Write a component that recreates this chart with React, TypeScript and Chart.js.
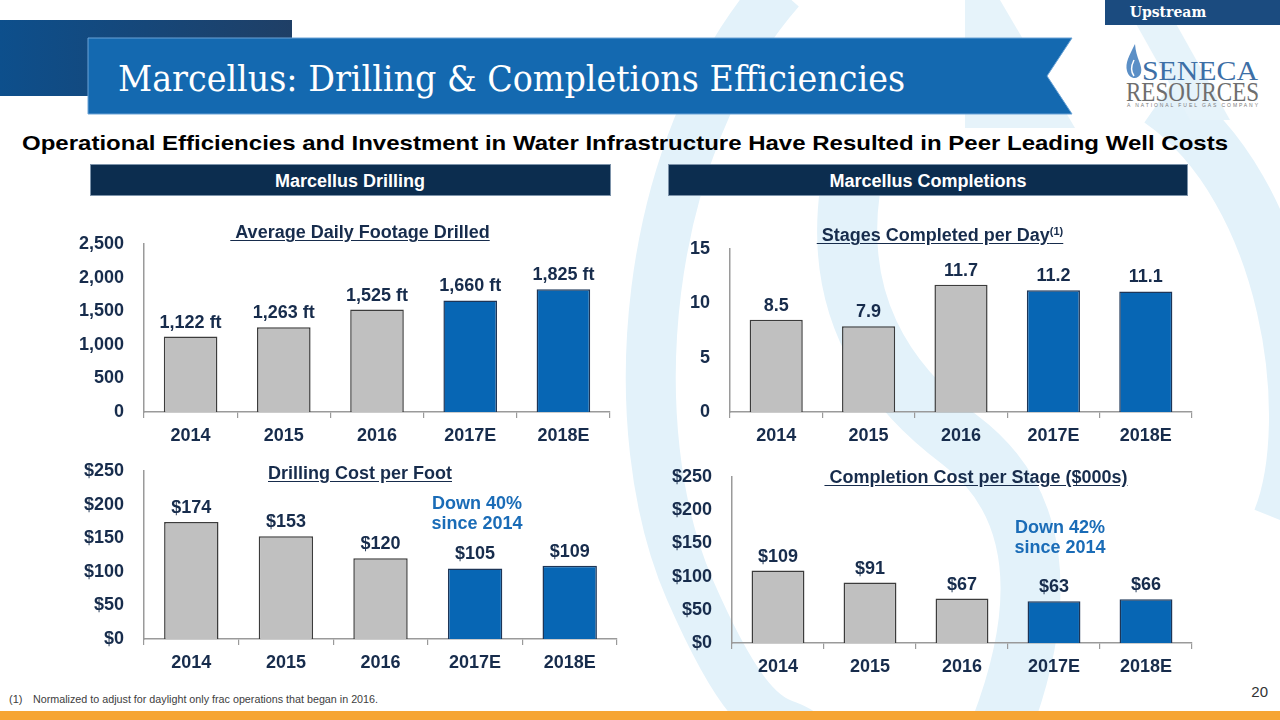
import React, { useEffect, useRef } from "react";
import { Chart, registerables } from "chart.js";

Chart.register(...registerables);

// ---------- data ----------
const categories = ["2014", "2015", "2016", "2017E", "2018E"];
const footageValues = [1122, 1263, 1525, 1660, 1825];
const stagesValues = [8.5, 7.9, 11.7, 11.2, 11.1];
const drillCostValues = [174, 153, 120, 105, 109];
const completionCostValues = [109, 91, 67, 63, 66];

const footageAxisMax = 2500;
const footageStep = 500;
const stagesAxisMax = 15;
const stagesStep = 5;
const costAxisMax = 250;
const costStep = 50;

// ---------- style ----------
const NAVY = "#172c4c";
const GREY = "#c0c0c0";
const GREY_EDGE = "#3c3c3c";
const BLUE = "#0766b4";
const BLUE_EDGE = "#1d3557";
const AXIS = "#9a9a9a";
const ACCENT = "#1a6cb7";
const SANS = "'Liberation Sans', Arial, Helvetica, sans-serif";
const FS = 18;

const fmtThousands = (v: number) => v.toLocaleString("en-US");
const fmtDollar = (v: number) => "$" + v.toLocaleString("en-US");

type PanelProps = {
  values: number[];
  labels: string[];
  yMax: number;
  step: number;
  tickFmt: (v: number) => string;
  plotLeft: number;
  plotRight: number;
  plotTop: number;
  plotBottom: number;
};

function BarPanel(p: PanelProps) {
  const ref = useRef<HTMLCanvasElement>(null);
  const YW = 90;
  const PT = 50;
  const PR = 12;
  const XH = 40;
  const width = p.plotRight - p.plotLeft + YW + PR;
  const height = p.plotBottom - p.plotTop + PT + XH;

  useEffect(() => {
    const labelPlugin = {
      id: "valueLabels",
      afterDatasetsDraw(chart: any) {
        const ctx = chart.ctx;
        const meta = chart.getDatasetMeta(0);
        ctx.save();
        ctx.font = `bold ${FS}px ${SANS}`;
        ctx.fillStyle = NAVY;
        ctx.textAlign = "center";
        ctx.textBaseline = "alphabetic";
        meta.data.forEach((el: any, i: number) => {
          ctx.fillText(p.labels[i], el.x, el.y - 9);
        });
        ctx.restore();
      },
    };
    const chart = new Chart(ref.current as HTMLCanvasElement, {
      type: "bar",
      data: {
        labels: categories,
        datasets: [
          {
            data: p.values,
            backgroundColor: categories.map((c) => (c.endsWith("E") ? BLUE : GREY)),
            borderColor: categories.map((c) => (c.endsWith("E") ? BLUE_EDGE : GREY_EDGE)),
            borderWidth: 1.5,
            barPercentage: 0.575,
            categoryPercentage: 1,
          },
        ],
      },
      options: {
        animation: false,
        responsive: false,
        maintainAspectRatio: false,
        layout: { padding: { top: PT, right: PR, left: 0, bottom: 0 } },
        plugins: { legend: { display: false }, tooltip: { enabled: false }, title: { display: false } },
        scales: {
          x: {
            offset: true,
            grid: {
              offset: true,
              display: true,
              drawOnChartArea: false,
              drawTicks: true,
              tickLength: 6,
              lineWidth: 1.2,
              color: (ctx: any) => (ctx.index >= categories.length ? "rgba(0,0,0,0)" : AXIS),
            },
            border: { display: true, color: AXIS, width: 1.5 },
            ticks: {
              color: NAVY,
              font: { family: SANS, size: FS, weight: "bold" },
              padding: 7,
              maxRotation: 0,
            },
            afterFit: (s: any) => {
              s.height = XH;
            },
          },
          y: {
            min: 0,
            max: p.yMax,
            grid: { display: false },
            border: { display: true, color: AXIS, width: 1.5 },
            ticks: {
              stepSize: p.step,
              color: NAVY,
              font: { family: SANS, size: FS, weight: "bold" },
              padding: 12,
              callback: (v: any) => p.tickFmt(Number(v)),
            },
            afterFit: (s: any) => {
              s.width = YW;
            },
          },
        },
      } as any,
      plugins: [labelPlugin],
    });
    return () => chart.destroy();
  }, []);

  return (
    <canvas
      ref={ref}
      width={width}
      height={height}
      style={{ position: "absolute", left: p.plotLeft - YW, top: p.plotTop - PT, width, height }}
    />
  );
}

function Label(props: {
  x: number;
  y: number;
  text: React.ReactNode;
  size?: number;
  color?: string;
  underline?: boolean;
}) {
  const size = props.size ?? FS;
  return (
    <div
      style={{
        position: "absolute",
        left: props.x,
        top: props.y - 11,
        transform: "translateX(-50%)",
        whiteSpace: "pre",
        fontFamily: SANS,
        fontWeight: "bold",
        fontSize: size,
        lineHeight: "22px",
        color: props.color ?? NAVY,
        textDecoration: props.underline ? "underline" : "none",
        textUnderlineOffset: "2px",
      }}
    >
      {props.text}
    </div>
  );
}

export default function App() {
  return (
    <div
      style={{
        position: "absolute",
        left: 0,
        top: 0,
        width: 1280,
        height: 720,
        overflow: "hidden",
        background: "#ffffff",
        fontFamily: SANS,
      }}
    >
      <svg width={1280} height={720} style={{ position: "absolute", left: 0, top: 0 }}>
        <defs>
          <linearGradient id="blk" x1="0" y1="0" x2="1" y2="0">
            <stop offset="0" stopColor="#0d4f8c" />
            <stop offset="1" stopColor="#1f3f66" />
          </linearGradient>
        </defs>
        {/* watermark */}
        <g fill="none" stroke="#e3f2fa">
          <path d="M 780 -10 C 640 150, 620 430, 690 590 S 780 710, 810 740" strokeWidth={50} />
          <path d="M 1160 100 C 1290 190, 1320 420, 1280 520" strokeWidth={55} />
          <path d="M 850 190 C 835 300, 880 380, 960 440 C 1040 500, 1050 600, 1000 730" strokeWidth={60} />
        </g>
        <polygon points="965,0 1000,0 1075,128 965,128" fill="#e6f3fa" />
        <polygon points="1135,22 1175,22 1230,120 1190,120" fill="#e6f3fa" />
        {/* header */}
        <rect x={0} y={20} width={292} height={76} fill="url(#blk)" />
        <polygon points="88,38 1072,38 1047,76 1072,114 88,114" fill="#1469b0" stroke="#6aa3d6" strokeWidth={1} />
        <text
          x={118}
          y={91}
          fill="#ffffff"
          fontFamily="'DejaVu Serif', serif"
          fontSize={35}
          textLength={787}
          lengthAdjust="spacingAndGlyphs"
        >
          Marcellus: Drilling &amp; Completions Efficiencies
        </text>
        <rect x={1105} y={0} width={175} height={25} fill="#1b4b7f" />
        <text
          x={1168}
          y={17}
          fill="#ffffff"
          fontFamily="'DejaVu Serif', serif"
          fontWeight="bold"
          fontSize={14}
          textAnchor="middle"
        >
          Upstream
        </text>
        {/* logo */}
        <path
          d="M 1135 44 C 1129 56, 1125 63, 1127 71 C 1129 79, 1138 81, 1141 73 C 1143 65, 1136 59, 1135 44 Z"
          fill="#5b8fc6"
        />
        <path d="M 1134 60 C 1131 66, 1131 72, 1134 76" stroke="#ffffff" strokeWidth={1.5} fill="none" />
        <text
          x={1142}
          y={80}
          fill="#3d6fa6"
          fontFamily="'Liberation Serif', 'Times New Roman', serif"
          fontSize={27}
          textLength={116}
          lengthAdjust="spacingAndGlyphs"
        >
          SENECA
        </text>
        <text
          x={1126}
          y={101}
          fill="#6e6e6e"
          fontFamily="'Liberation Serif', 'Times New Roman', serif"
          fontSize={28}
          textLength={133}
          lengthAdjust="spacingAndGlyphs"
        >
          RESOURCES
        </text>
        <text
          x={1127}
          y={107}
          fill="#7a7a7a"
          fontFamily={SANS}
          fontSize={5}
          textLength={131}
          lengthAdjust="spacing"
        >
          A NATIONAL FUEL GAS COMPANY
        </text>
        {/* subtitle */}
        <text
          x={22}
          y={150}
          fill="#000000"
          fontFamily={SANS}
          fontWeight="bold"
          fontSize={21}
          textLength={1206}
          lengthAdjust="spacingAndGlyphs"
        >
          Operational Efficiencies and Investment in Water Infrastructure Have Resulted in Peer Leading Well Costs
        </text>
        {/* section headers */}
        <rect x={90.5} y={164.5} width={520} height={31} fill="#0c2d4f" stroke="#7d93aa" strokeWidth={1} />
        <text x={350} y={187} fill="#ffffff" fontFamily={SANS} fontWeight="bold" fontSize={18} textAnchor="middle">
          Marcellus Drilling
        </text>
        <rect x={668.5} y={164.5} width={519} height={31} fill="#0c2d4f" stroke="#7d93aa" strokeWidth={1} />
        <text x={928} y={187} fill="#ffffff" fontFamily={SANS} fontWeight="bold" fontSize={18} textAnchor="middle">
          Marcellus Completions
        </text>
        {/* footer */}
        <text x={9} y={703} fill="#404040" fontFamily={SANS} fontSize={11}>
          (1)
        </text>
        <text
          x={33}
          y={703}
          fill="#404040"
          fontFamily={SANS}
          fontSize={11}
          textLength={345}
          lengthAdjust="spacingAndGlyphs"
        >
          Normalized to adjust for daylight only frac operations that began in 2016.
        </text>
        <text x={1268} y={697} fill="#333333" fontFamily={SANS} fontSize={15} textAnchor="end">
          20
        </text>
        <rect x={0} y={711} width={1280} height={9} fill="#f6a534" />
      </svg>

      <BarPanel
        values={footageValues}
        labels={footageValues.map((v) => fmtThousands(v) + " ft")}
        yMax={footageAxisMax}
        step={footageStep}
        tickFmt={fmtThousands}
        plotLeft={144}
        plotRight={610}
        plotTop={244}
        plotBottom={412}
      />
      <BarPanel
        values={stagesValues}
        labels={stagesValues.map((v) => v.toFixed(1))}
        yMax={stagesAxisMax}
        step={stagesStep}
        tickFmt={(v) => String(v)}
        plotLeft={730}
        plotRight={1192}
        plotTop={249}
        plotBottom={412}
      />
      <BarPanel
        values={drillCostValues}
        labels={drillCostValues.map(fmtDollar)}
        yMax={costAxisMax}
        step={costStep}
        tickFmt={fmtDollar}
        plotLeft={144}
        plotRight={617}
        plotTop={471}
        plotBottom={639}
      />
      <BarPanel
        values={completionCostValues}
        labels={completionCostValues.map(fmtDollar)}
        yMax={costAxisMax}
        step={costStep}
        tickFmt={fmtDollar}
        plotLeft={732}
        plotRight={1192}
        plotTop={477}
        plotBottom={643}
      />

      <Label x={360} y={232} text={"\u00a0Average Daily Footage Drilled"} underline />
      <Label
        x={940}
        y={231}
        text={
          <span>
            {"\u00a0Stages Completed per Day"}
            <sup style={{ fontSize: 11, verticalAlign: "6px" }}>(1)</sup>
          </span>
        }
        underline
      />
      <Label x={360} y={473} text={"Drilling Cost per Foot"} underline />
      <Label x={976} y={477} text={"\u00a0Completion Cost per Stage ($000s)"} underline />

      <Label x={477} y={503} text={"Down 40%"} color={ACCENT} />
      <Label x={477} y={523} text={"since 2014"} color={ACCENT} />
      <Label x={1060} y={527} text={"Down 42%"} color={ACCENT} />
      <Label x={1060} y={547} text={"since 2014"} color={ACCENT} />
    </div>
  );
}
